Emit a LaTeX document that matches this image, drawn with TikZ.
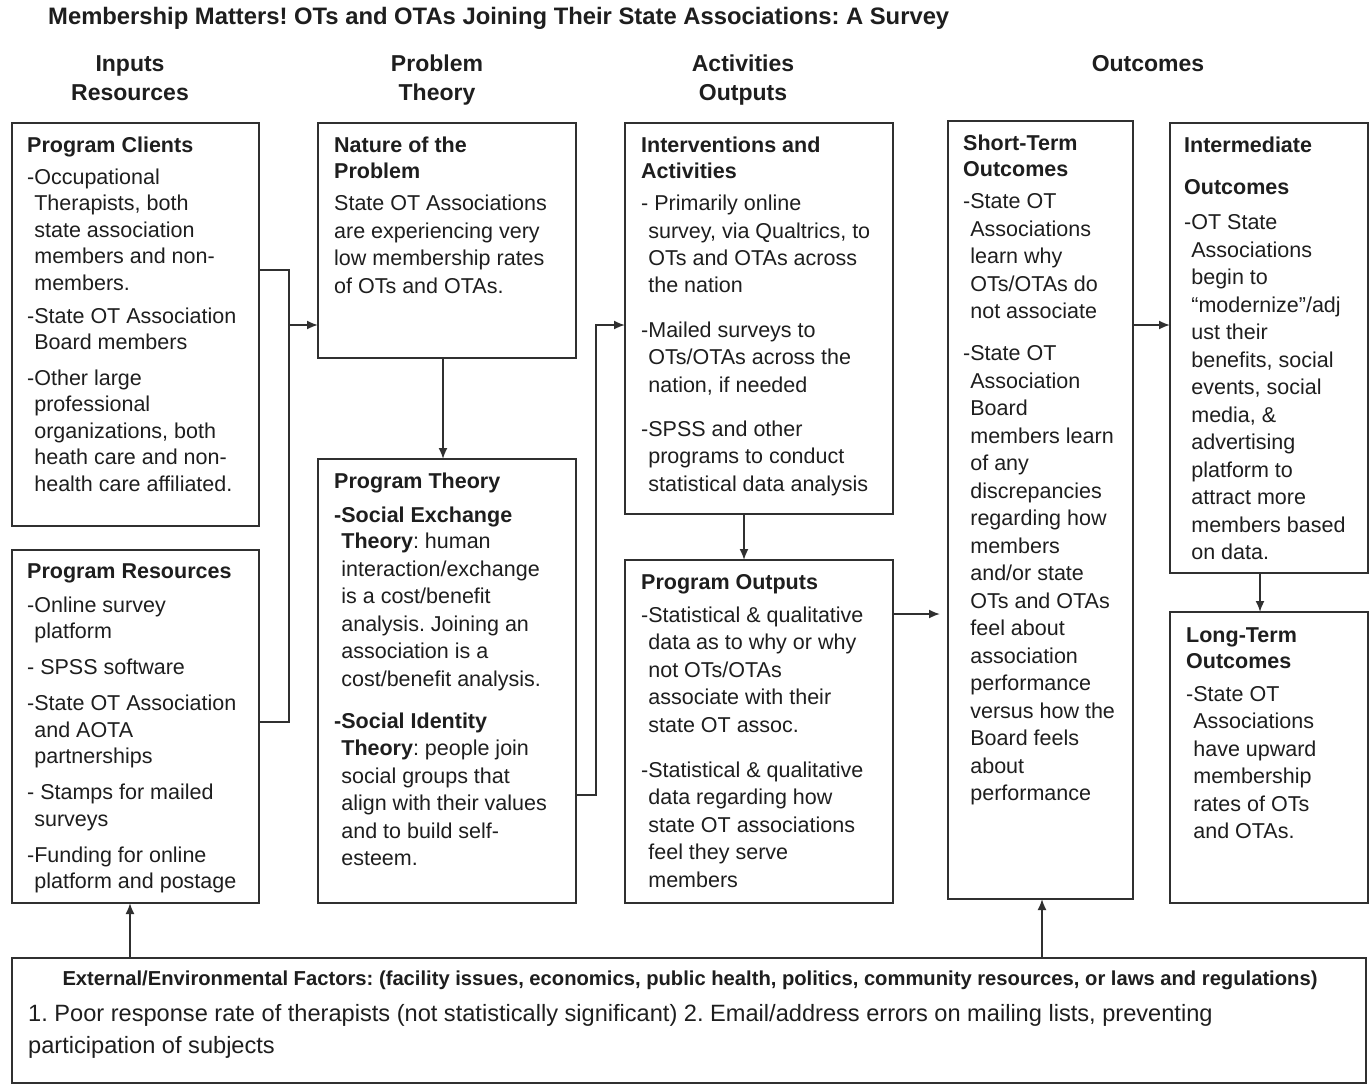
\documentclass[tikz,border=0pt]{standalone}
\usepackage{fontspec}
\setmainfont{Liberation Sans}
\usetikzlibrary{arrows.meta}
\definecolor{ln}{HTML}{303030}
\definecolor{tx}{HTML}{1E1E1E}
\tikzset{
  box/.style={draw=ln, line width=1.8pt, anchor=north west, inner sep=0pt, outer sep=0pt},
  txt/.style={anchor=north west, inner sep=0pt, align=left, text=tx, font=\fontsize{21.5}{27.5}\selectfont},
  txtb/.style={txt, font=\fontsize{21.5}{26.5}\selectfont},
  conn/.style={draw=ln, line width=1.8pt},
  arr/.style={conn, -{Latex[length=11pt,width=9pt]}},
  colhdr/.style={font=\bfseries\fontsize{23}{29}\selectfont, align=center, inner sep=0pt, text=tx}
}
\newcommand{\ind}{\hphantom{-}}
\frenchspacing
\begin{document}
\begin{tikzpicture}[x=1pt,y=-1pt]
\fill[white] (0,0) rectangle (1370,1087);
\useasboundingbox (0,0) rectangle (1370,1087);

% title and column headers
\node[anchor=west, inner sep=0pt, text=tx, font=\bfseries\fontsize{23.8}{28}\selectfont] (title) at (48,18)
  {Membership Matters! OTs and OTAs Joining Their State Associations: A Survey};
\node[colhdr] (h1) at (130,78) {Inputs\\Resources};
\node[colhdr] (h2) at (437,80) {Problem\\Theory};
\node[colhdr] (h3) at (743,80) {Activities\\Outputs};
\node[colhdr, anchor=center] (h4) at (1148,64) {Outcomes};

% boxes
\node[box, minimum width=247pt, minimum height=403pt] (clients) at (12,123) {};
\node[box, minimum width=247pt, minimum height=353pt] (resources) at (12,550) {};
\node[box, minimum width=258pt, minimum height=235pt] (nature) at (318,123) {};
\node[box, minimum width=258pt, minimum height=444pt] (theory) at (318,459) {};
\node[box, minimum width=268pt, minimum height=391pt] (interventions) at (625,123) {};
\node[box, minimum width=268pt, minimum height=343pt] (outputs) at (625,560) {};
\node[box, minimum width=185pt, minimum height=778pt] (short) at (948,121) {};
\node[box, minimum width=198pt, minimum height=450pt] (inter) at (1170,123) {};
\node[box, minimum width=198pt, minimum height=291pt] (long) at (1170,612) {};
\node[box, minimum width=1354pt, minimum height=125pt] (external) at (12,958) {};

% box texts
\node[txtb] (tclients) at (27,137) {\textbf{Program Clients}\\[5pt]
-Occupational\\
\ind Therapists, both\\
\ind state association\\
\ind members and non-\\
\ind members.\\[6.5pt]
-State OT Association\\
\ind Board members\\[9pt]
-Other large\\
\ind professional\\
\ind organizations, both\\
\ind heath care and non-\\
\ind health care affiliated.};

\node[txtb] (tresources) at (27,563) {\textbf{Program Resources}\\[7.5pt]
-Online survey\\
\ind platform\\[9.5pt]
- SPSS software\\[9.5pt]
-State OT Association\\
\ind and AOTA\\
\ind partnerships\\[9.5pt]
- Stamps for mailed\\
\ind surveys\\[9.5pt]
-Funding for online\\
\ind platform and postage};

\node[txt] (tnature) at (334,137) {\textbf{Nature of the}\\[-1.5pt]
\textbf{Problem}\\[4.5pt]
State OT Associations\\
are experiencing very\\
low membership rates\\
of OTs and OTAs.};

\node[txt] (ttheory) at (334,473) {\textbf{Program Theory}\\[6.5pt]
\textbf{-Social Exchange}\\[-1.5pt]
\ind\textbf{Theory}: human\\
\ind interaction/exchange\\
\ind is a cost/benefit\\
\ind analysis. Joining an\\
\ind association is a\\
\ind cost/benefit analysis.\\[14.5pt]
\textbf{-Social Identity}\\
\ind\textbf{Theory}: people join\\
\ind social groups that\\
\ind align with their values\\
\ind and to build self-\\
\ind esteem.};

\node[txt, font=\fontsize{21.5}{27.3}\selectfont] (tinterventions) at (641,137) {\textbf{Interventions and}\\[-2pt]
\textbf{Activities}\\[5.5pt]
- Primarily online\\
\ind survey, via Qualtrics, to\\
\ind OTs and OTAs across\\
\ind the nation\\[17.5pt]
-Mailed surveys to\\
\ind OTs/OTAs across the\\
\ind nation, if needed\\[17pt]
-SPSS and other\\
\ind programs to conduct\\
\ind statistical data analysis};

\node[txt] (toutputs) at (641,574) {\textbf{Program Outputs}\\[5.5pt]
-Statistical \& qualitative\\
\ind data as to why or why\\
\ind not OTs/OTAs\\
\ind associate with their\\
\ind state OT assoc.\\[17.5pt]
-Statistical \& qualitative\\
\ind data regarding how\\
\ind state OT associations\\
\ind feel they serve\\
\ind members};

\node[txt] (tshort) at (963,135) {\textbf{Short-Term}\\[-1.5pt]
\textbf{Outcomes}\\[4.5pt]
-State OT\\
\ind Associations\\
\ind learn why\\
\ind OTs/OTAs do\\
\ind not associate\\[14.5pt]
-State OT\\
\ind Association\\
\ind Board\\
\ind members learn\\
\ind of any\\
\ind discrepancies\\
\ind regarding how\\
\ind members\\
\ind and/or state\\
\ind OTs and OTAs\\
\ind feel about\\
\ind association\\
\ind performance\\
\ind versus how the\\
\ind Board feels\\
\ind about\\
\ind performance};

\node[txt] (tinter) at (1184,137) {\textbf{Intermediate}\\[14.5pt]
\textbf{Outcomes}\\[7.5pt]
-OT State\\
\ind Associations\\
\ind begin to\\
\ind “modernize”/adj\\
\ind ust their\\
\ind benefits, social\\
\ind events, social\\
\ind media, \&\\
\ind advertising\\
\ind platform to\\
\ind attract more\\
\ind members based\\
\ind on data.};

\node[txt] (tlong) at (1186,627) {\textbf{Long-Term}\\[-1.5pt]
\textbf{Outcomes}\\[5.5pt]
-State OT\\
\ind Associations\\
\ind have upward\\
\ind membership\\
\ind rates of OTs\\
\ind and OTAs.};

\node[inner sep=0pt, text=tx, font=\fontsize{20.2}{24}\selectfont] (textheader) at (690,980)
  {\textbf{External/Environmental Factors: (facility issues, economics, public health, politics, community resources, or laws and regulations)}};
\node[txt, font=\fontsize{23.6}{32}\selectfont] (texternal) at (28,1004)
  {1. Poor response rate of therapists (not statistically significant) 2. Email/address errors on mailing lists, preventing\\
participation of subjects};

% connectors
\coordinate (j1) at (289,270);
\coordinate (j2) at (289,722);
\coordinate (j3) at (289,325);
\draw[conn] (j1 -| clients.east) -- (j1) -- (j2) -- (j2 -| resources.east);
\draw[arr] (j3) -- (j3 -| nature.west);

\coordinate (x1) at (443,0);
\draw[arr] (x1 |- nature.south) -- (x1 |- theory.north);

\coordinate (j4) at (596,795);
\coordinate (j5) at (596,325);
\draw[arr] (j4 -| theory.east) -- (j4) -- (j5) -- (j5 -| interventions.west);

\coordinate (x2) at (744,0);
\draw[arr] (x2 |- interventions.south) -- (x2 |- outputs.north);

\coordinate (y1) at (0,614);
\draw[arr, shorten >=8pt] (y1 -| outputs.east) -- (y1 -| short.west);

\coordinate (y2) at (0,325);
\draw[arr] (y2 -| short.east) -- (y2 -| inter.west);

\coordinate (x3) at (1260,0);
\draw[arr] (x3 |- inter.south) -- (x3 |- long.north);

\coordinate (x4) at (130,0);
\draw[arr] (x4 |- external.north) -- (x4 |- resources.south);

\coordinate (x5) at (1042,0);
\draw[arr] (x5 |- external.north) -- (x5 |- short.south);
\end{tikzpicture}
\end{document}
